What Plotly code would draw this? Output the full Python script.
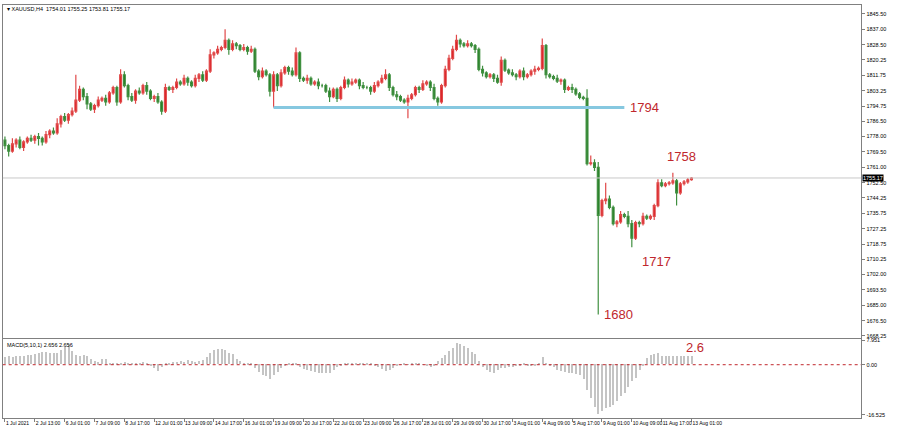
import plotly.graph_objects as go

# XAUUSD H4 closes, 1 Jul 2021 - 13 Aug 2021
closes = [1773, 1770, 1774, 1776, 1772, 1775, 1777, 1776, 1778, 1777,
          1775, 1779, 1781, 1780, 1785, 1789, 1787, 1790, 1792, 1798,
          1804, 1800, 1796, 1793, 1795, 1798, 1799, 1797, 1802, 1805,
          1797, 1812, 1806, 1800, 1798, 1803, 1802, 1806, 1803, 1799,
          1800, 1797, 1792, 1805, 1804, 1805, 1808, 1807, 1810, 1808,
          1806, 1810, 1812, 1809, 1814, 1823, 1824, 1826, 1827, 1831,
          1826, 1829, 1828, 1826, 1827, 1825, 1826, 1814, 1811, 1814,
          1812, 1803, 1812, 1806, 1813, 1816, 1814, 1812, 1824, 1810,
          1809, 1810, 1807, 1808, 1806, 1806, 1803, 1800, 1804, 1799,
          1805, 1809, 1807, 1808, 1809, 1806, 1805, 1805, 1803, 1806,
          1808, 1810, 1812, 1805, 1801, 1800, 1798, 1797, 1799, 1801,
          1805, 1804, 1807, 1808, 1805, 1799, 1797, 1806, 1815, 1821,
          1826, 1831, 1829, 1828, 1829, 1828, 1826, 1815, 1813, 1811,
          1812, 1810, 1808, 1820, 1814.5, 1813, 1812, 1811, 1814, 1811,
          1812, 1814, 1815, 1815.5, 1828, 1812, 1811, 1810, 1808.5, 1809,
          1804, 1805, 1804, 1801.5, 1799.5, 1799, 1763, 1763.5, 1761, 1734.5,
          1742.7, 1743.5, 1739, 1730, 1731, 1735, 1734, 1730, 1722, 1730.6,
          1730, 1734, 1733, 1734, 1740, 1752.5, 1751, 1752, 1752.5, 1753.6,
          1747, 1752, 1753, 1754.2, 1755.17]
first_open = 1776

wick_up = [2, 1, 3, 1, 2, 1, 1, 2, 1, 2,
           1, 2, 1, 2, 3, 1, 2, 1, 2, 14,
           2, 1, 2, 1, 1, 2, 1, 2, 1, 1,
           1, 3, 2, 1, 2, 1, 2, 1, 2, 1,
           1, 2, 1, 2, 1, 1, 2, 1, 2, 1,
           1, 2, 1, 2, 1, 3, 1, 2, 1, 6,
           1, 2, 1, 1, 2, 1, 2, 1, 1, 2,
           1, 1, 2, 1, 2, 1, 1, 2, 3, 1,
           1, 2, 1, 1, 2, 1, 1, 2, 1, 1,
           1, 2, 1, 2, 1, 1, 2, 1, 1, 2,
           1, 2, 3, 1, 1, 2, 1, 1, 2, 1,
           1, 1, 2, 1, 1, 2, 1, 1, 2, 2,
           2, 3, 1, 1, 2, 1, 1, 1, 2, 1,
           1, 1, 2, 2, 1, 1, 2, 1, 1, 2,
           1, 1, 2, 1, 4, 1, 1, 1, 2, 1,
           1, 1, 2, 1, 1, 1, 5, 4, 2, 3,
           1, 9, 2, 1, 1, 2, 1, 3, 2, 1,
           1, 2, 1, 1, 1, 2, 2, 1, 1, 4.5,
           1, 1, 1, 1, 0.5]

wick_dn = [2, 3, 1, 2, 1, 2, 1, 1, 2, 4,
           2, 1, 2, 1, 1, 2, 1, 2, 1, 1,
           1, 2, 3, 1, 2, 1, 1, 2, 1, 1,
           2, 1, 1, 2, 1, 2, 1, 1, 2, 1,
           2, 1, 2, 1, 1, 2, 1, 1, 1, 2,
           1, 1, 2, 1, 1, 1, 2, 1, 1, 1,
           3, 1, 2, 1, 1, 2, 1, 1, 2, 1,
           1, 3, 9, 3, 1, 1, 2, 1, 1, 2,
           1, 2, 1, 1, 2, 1, 1, 3, 1, 2,
           1, 1, 2, 1, 1, 2, 1, 1, 2, 1,
           1, 1, 1, 2, 1, 2, 1, 1, 9, 1,
           1, 2, 1, 1, 2, 1, 2, 1, 1, 1,
           1, 1, 2, 1, 1, 1, 2, 1, 2, 1,
           1, 2, 1, 2, 1, 1, 1, 2, 1, 2,
           1, 1, 2, 1, 1, 2, 1, 1, 1, 2,
           2, 1, 2, 1, 1, 1, 1, 1, 2, 54.5,
           1, 2, 1, 1, 2, 1, 1, 2, 5, 1,
           2, 1, 1, 1, 2, 1, 1, 1, 1, 1,
           7, 1, 1, 1, 0.5]

# MACD(5,10,1) histogram
macd = [2.4, 2.6, 2.5, 2.8, 2.7, 2.6, 2.9, 3.0, 3.4, 3.8,
        4.0, 3.9, 3.6, 3.6, 3.8, 4.6, 5.8, 6.6, 4.2, 3.0,
        2.8, 2.9, 2.6, 1.8, 1.2, 0.6, 1.7, 1.6, 0.4, 0.3,
        0.2, 0.5, 0.6, 0.4, 0.2, 0.3, 0.4, 0.8, 0.3, -0.4,
        -1.2, -2.3, -1.0, 0.3, 0.5, 0.6, 0.9, 1.0, 0.8, 1.5,
        1.2, 0.9, 1.0, 1.4, 2.5, 3.8, 4.8, 5.0, 5.0, 4.8,
        3.8, 3.4, 1.8, 1.2, 0.4, 0.3, 0.2, -1.2, -2.6, -3.4,
        -4.0, -4.9, -3.6, -2.6, -1.2, -0.6, 0.3, 0.5, 0.2, -1.0,
        -1.6, -2.0, -2.2, -2.6, -2.8, -3.0, -3.0, -2.8, -1.8, -0.8,
        -0.3, 0.2, 0.3, 0.4, 0.2, 0.1, 0.3, 0.2, 0.1, -0.3,
        -0.8, -1.6, -2.3, -2.0, -1.2, -0.4, -0.2, 0.1, -0.2, 0.2,
        0.4, 0.3, -0.2, -0.4, -0.8, -0.4, 1.0, 2.0, 3.0, 4.5,
        5.3, 6.9, 6.5, 6.0, 5.2, 4.0, 3.4, 1.0, -1.0, -1.8,
        -2.5, -2.8, -1.8, -1.3, -1.1, -1.0, -0.9, -0.6, -0.4, 0.2,
        -0.3, -0.4, -0.3, 0.2, 2.4, 0.5, -0.5, -1.0, -1.8, -2.2,
        -2.6, -2.9, -3.0, -3.3, -3.6, -5.0, -8.5, -11.0, -14.0, -16.3,
        -15.5, -14.5, -14.0, -13.4, -12.0, -10.5, -9.5, -7.5, -5.5, -4.5,
        -2.0, -0.5, 2.0, 3.2, 3.5, 3.8, 2.8, 2.6, 2.7, 2.6,
        2.6, 2.7, 2.6, 2.6, 2.65]

time_labels = ["1 Jul 2021", "2 Jul 13:00", "6 Jul 01:00", "7 Jul 09:00", "8 Jul 17:00",
               "12 Jul 01:00", "13 Jul 09:00", "14 Jul 17:00", "16 Jul 01:00", "19 Jul 09:00",
               "20 Jul 17:00", "22 Jul 01:00", "23 Jul 09:00", "26 Jul 17:00", "28 Jul 01:00",
               "29 Jul 09:00", "30 Jul 17:00", "3 Aug 01:00", "4 Aug 09:00", "5 Aug 17:00",
               "9 Aug 01:00", "10 Aug 09:00", "11 Aug 17:00", "13 Aug 01:00"]
bars_per_label = 8

price_ticks = [1845.50, 1837.00, 1828.50, 1820.25, 1811.75, 1803.25, 1794.75, 1786.50,
               1778.00, 1769.50, 1761.00, 1752.50, 1744.25, 1735.75, 1727.25, 1718.75,
               1710.25, 1702.00, 1693.50, 1685.00, 1676.50, 1668.25]
macd_ticks = [7.951, 0.0, -16.525]
macd_tick_text = ["7.951", "0.00", "-16.525"]

support_level = 1794
support_span = [72, 166]
last_price = 1755.17
marks = [(166, 1794, "1794"), (180, 1758, "1758"), (169, 1717, "1717"), (159, 1680, "1680")]

n = len(closes)
idx = list(range(n))
opens = [first_open] + closes[:-1]
highs = [max(o, c) + w for o, c, w in zip(opens, closes, wick_up)]
lows = [min(o, c) - w for o, c, w in zip(opens, closes, wick_dn)]

RED = "#d9141c"
GREEN = "#1f7a1f"
fig = go.Figure()

fig.add_trace(go.Candlestick(
    x=idx, open=opens, high=highs, low=lows, close=closes,
    increasing=dict(line=dict(color="#e04848", width=1.2), fillcolor=RED),
    decreasing=dict(line=dict(color="#3f8f3f", width=1.2), fillcolor=GREEN),
    whiskerwidth=0, xaxis="x", yaxis="y", hoverinfo="skip"))

fig.add_trace(go.Scatter(x=support_span, y=[support_level] * 2, mode="lines",
                         line=dict(color="#86c8e0", width=3), xaxis="x", yaxis="y"))

fig.add_trace(go.Bar(x=idx, y=macd, marker=dict(color="#c4c4c4", line=dict(width=0)),
                     width=0.3, xaxis="x2", yaxis="y2"))

x_range = [-0.6, 229.5]
ann = []
for xi, yv, t in marks:
    ann.append(dict(x=xi, y=yv, xref="x", yref="y", text=t, showarrow=False,
                    xanchor="left", xshift=4 if t != "1758" else -12,
                    yshift=16 if t == "1758" else (-14 if t == "1717" else 0),
                    font=dict(size=13, color="#c0272d", family="Arial")))
ann.append(dict(x=182, y=macd[-1], xref="x2", yref="y2", text="2.6", showarrow=False,
                xanchor="left", yshift=9, font=dict(size=13, color="#c0272d", family="Arial")))
ann.append(dict(x=0.006, y=0.995, xref="paper", yref="paper", xanchor="left", yanchor="top",
                text="▾ XAUUSD,H4  1754.01 1755.25 1753.81 1755.17", showarrow=False,
                font=dict(size=5.5, color="#000")))
ann.append(dict(x=0.006, y=0.215, xref="paper", yref="paper", xanchor="left", yanchor="top",
                text="MACD(5,10,1) 2.656 2.656", showarrow=False, font=dict(size=5.5, color="#000")))
ann.append(dict(x=0.958, y=last_price, xref="paper", yref="y", xanchor="left", showarrow=False,
                text="1755.17", bgcolor="#000", font=dict(size=5.5, color="#fff"), borderpad=0))

fig.update_layout(
    width=900, height=434, margin=dict(l=0, r=0, t=0, b=0),
    paper_bgcolor="white", plot_bgcolor="white", showlegend=False,
    font=dict(family="Arial", size=5.5, color="#000"),
    annotations=ann, bargap=0,
    shapes=[dict(type="line", xref="x", yref="y", x0=x_range[0], x1=x_range[1],
                 y0=last_price, y1=last_price, line=dict(color="#c8c8c8", width=1)),
            dict(type="line", xref="x2", yref="y2", x0=x_range[0], x1=x_range[1],
                 y0=0, y1=0, line=dict(color="#c0272d", width=1, dash="dot"))],
    xaxis=dict(domain=[0.003, 0.957], range=x_range, anchor="y", showticklabels=False,
               rangeslider=dict(visible=False), showgrid=False, zeroline=False,
               showline=True, mirror=True, linecolor="#808080", linewidth=1),
    yaxis=dict(domain=[0.221, 0.993], range=[1667.2, 1850.4], side="right",
               tickvals=price_ticks, ticktext=[f"{v:.2f}" for v in price_ticks],
               ticks="outside", ticklen=3, tickcolor="#808080", showgrid=False, zeroline=False,
               showline=True, mirror=True, linecolor="#808080", linewidth=1),
    xaxis2=dict(domain=[0.003, 0.957], range=x_range, anchor="y2",
                tickvals=[i * bars_per_label for i in range(len(time_labels))],
                ticktext=time_labels, ticks="outside", ticklen=3, tickcolor="#808080",
                tickfont=dict(size=5),
                tickangle=0, ticklabelposition="outside right", showgrid=False, zeroline=False,
                showline=True, mirror=True, linecolor="#808080", linewidth=1),
    yaxis2=dict(domain=[0.035, 0.217], range=[-17.5, 8.3], side="right",
                tickvals=macd_ticks, ticktext=macd_tick_text, ticks="outside", ticklen=3,
                tickcolor="#808080", showgrid=False, zeroline=False,
                showline=True, mirror=True, linecolor="#808080", linewidth=1),
)

fig.write_html("out.html", config={"displayModeBar": False},
               post_script="document.body.style.margin='0';")
